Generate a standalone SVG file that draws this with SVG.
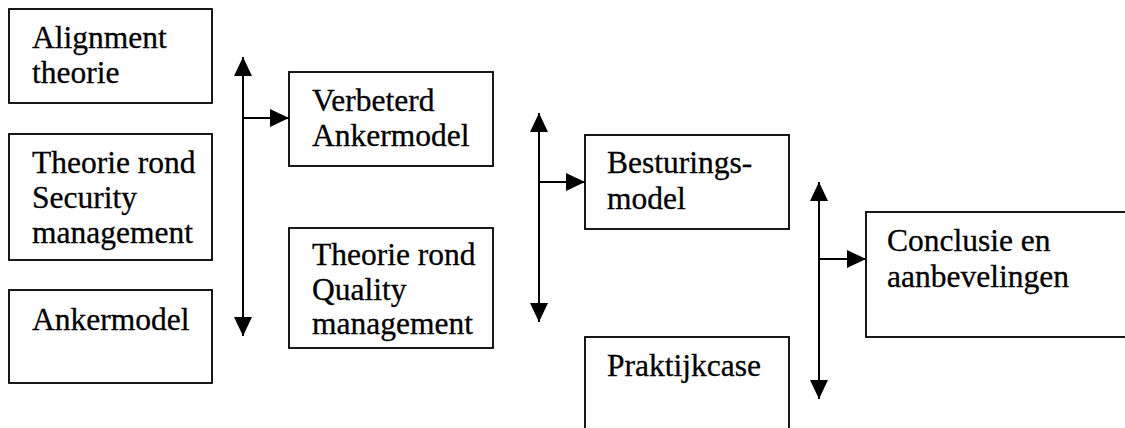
<svg xmlns="http://www.w3.org/2000/svg" width="1125" height="428" viewBox="0 0 1125 428">
  <defs>
    <style>
      .box { fill: #ffffff; stroke: #000000; stroke-width: 1.8; }
      .lbl { font-family: "Liberation Serif", "Times New Roman", Times, serif; font-size: 31.5px; fill: #000000; stroke: #000000; stroke-width: 0.3; }
      .wire { fill: none; stroke: #000000; stroke-width: 2; }
    </style>
    <marker id="head" viewBox="0 0 19 18" refX="19" refY="9" markerWidth="19" markerHeight="18" markerUnits="userSpaceOnUse" orient="auto-start-reverse">
      <path d="M0,0 L19,9 L0,18 Z" fill="#000000"/>
    </marker>
  </defs>
  <rect width="1125" height="428" fill="#ffffff"/>

  <!-- column 1: sources -->
  <g id="alignment-theorie">
    <rect class="box" x="9" y="9" width="203" height="94"/>
    <text class="lbl" x="32" y="48">Alignment</text>
    <text class="lbl" x="32" y="83">theorie</text>
  </g>
  <g id="security-management">
    <rect class="box" x="9" y="134" width="203" height="126"/>
    <text class="lbl" x="32" y="173">Theorie rond</text>
    <text class="lbl" x="32" y="208">Security</text>
    <text class="lbl" x="32" y="243">management</text>
  </g>
  <g id="ankermodel">
    <rect class="box" x="9" y="290" width="203" height="93"/>
    <text class="lbl" x="32" y="330">Ankermodel</text>
  </g>

  <!-- column 2 -->
  <g id="verbeterd-ankermodel">
    <rect class="box" x="289" y="72" width="204" height="94"/>
    <text class="lbl" x="312" y="111">Verbeterd</text>
    <text class="lbl" x="312" y="146">Ankermodel</text>
  </g>
  <g id="quality-management">
    <rect class="box" x="289" y="228" width="204" height="120"/>
    <text class="lbl" x="312" y="265">Theorie rond</text>
    <text class="lbl" x="312" y="300">Quality</text>
    <text class="lbl" x="312" y="334">management</text>
  </g>

  <!-- column 3 -->
  <g id="besturingsmodel">
    <rect class="box" x="585" y="135" width="204" height="94"/>
    <text class="lbl" x="607" y="173">Besturings-</text>
    <text class="lbl" x="607" y="209">model</text>
  </g>
  <g id="praktijkcase">
    <rect class="box" x="585" y="337" width="204" height="110"/>
    <text class="lbl" x="607" y="376">Praktijkcase</text>
  </g>

  <!-- column 4 -->
  <g id="conclusie">
    <rect class="box" x="866" y="212" width="280" height="125"/>
    <text class="lbl" x="887" y="251">Conclusie en</text>
    <text class="lbl" x="887" y="287">aanbevelingen</text>
  </g>

  <!-- connectors: double-headed collectors with a branch to the next stage -->
  <g id="connectors">
    <line class="wire" x1="243" y1="57" x2="243" y2="336" marker-start="url(#head)" marker-end="url(#head)"/>
    <line class="wire" x1="243" y1="118" x2="289" y2="118" marker-end="url(#head)"/>
    <line class="wire" x1="539" y1="113" x2="539" y2="322" marker-start="url(#head)" marker-end="url(#head)"/>
    <line class="wire" x1="539" y1="182" x2="585" y2="182" marker-end="url(#head)"/>
    <line class="wire" x1="819" y1="182" x2="819" y2="399" marker-start="url(#head)" marker-end="url(#head)"/>
    <line class="wire" x1="819" y1="259" x2="866" y2="259" marker-end="url(#head)"/>
  </g>
</svg>
